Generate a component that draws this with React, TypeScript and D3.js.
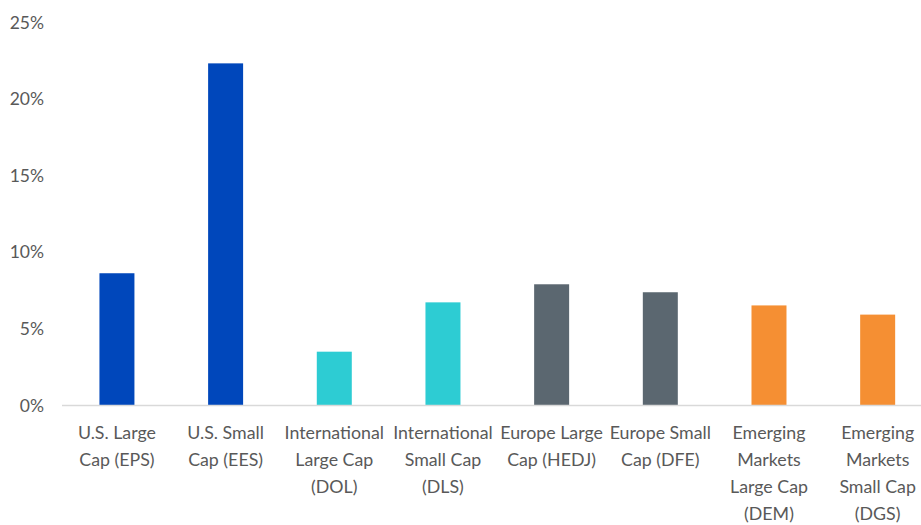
import React from "react";
import * as d3 from "d3";

const categories = ["EPS", "EES", "DOL", "DLS", "HEDJ", "DFE", "DEM", "DGS"];
const labelLines = [
  ["U.S. Large", "Cap (EPS)"],
  ["U.S. Small", "Cap (EES)"],
  ["International", "Large Cap", "(DOL)"],
  ["International", "Small Cap", "(DLS)"],
  ["Europe Large", "Cap (HEDJ)"],
  ["Europe Small", "Cap (DFE)"],
  ["Emerging", "Markets", "Large Cap", "(DEM)"],
  ["Emerging", "Markets", "Small Cap", "(DGS)"],
];
const values = [8.6, 22.3, 3.48, 6.7, 7.88, 7.36, 6.5, 5.9];
const groups = ["us", "us", "intl", "intl", "eu", "eu", "em", "em"];
const yTicks = [0, 5, 10, 15, 20, 25];

const groupColors: Record<string, string> = {
  us: "#0047BB",
  intl: "#2DCCD3",
  eu: "#5B6770",
  em: "#F58F33",
};

export default function App() {
  const W = 921;
  const H = 525;
  const x = d3
    .scaleBand<string>()
    .domain(categories)
    .range([62.6, 932])
    .paddingInner(0.678)
    .paddingOuter(0.339);
  const y = d3.scaleLinear().domain([0, 25]).range([405, 22]);
  const font = "Lato, 'Open Sans', sans-serif";
  const textColor = "#595959";

  return (
    <svg
      width={W}
      height={H}
      style={{ position: "absolute", left: 0, top: 0, display: "block", background: "#fff" }}
    >
      {yTicks.map((t) => (
        <text
          key={t}
          x={44}
          y={y(t)}
          textAnchor="end"
          dominantBaseline="central"
          fontFamily={font}
          fontSize={17.5}
          fill={textColor}
        >
          {t}%
        </text>
      ))}
      {categories.map((c, i) => (
        <rect
          key={c}
          x={x(c)}
          y={y(values[i])}
          width={x.bandwidth()}
          height={y(0) - y(values[i])}
          fill={groupColors[groups[i]]}
        />
      ))}
      <line x1={62} x2={921} y1={y(0) + 0.5} y2={y(0) + 0.5} stroke="#D9D9D9" strokeWidth={1.5} />
      {categories.map((c, i) => (
        <text
          key={c}
          x={(x(c) as number) + x.bandwidth() / 2}
          textAnchor="middle"
          fontFamily={font}
          fontSize={17.8}
          fill={textColor}
        >
          {labelLines[i].map((ln, j) => (
            <tspan key={j} x={(x(c) as number) + x.bandwidth() / 2} y={439 + j * 27}>
              {ln}
            </tspan>
          ))}
        </text>
      ))}
    </svg>
  );
}
